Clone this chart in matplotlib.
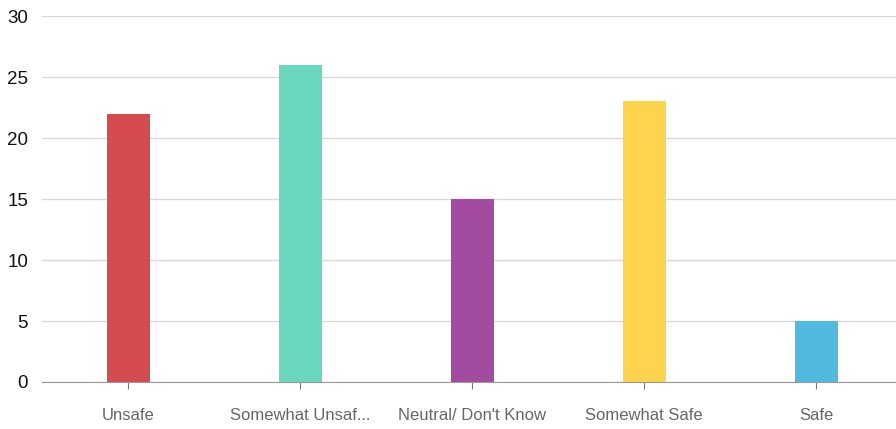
import matplotlib
matplotlib.use('Agg')
import matplotlib.pyplot as plt

categories = ['Unsafe', 'Somewhat Unsaf...', "Neutral/ Don't Know", 'Somewhat Safe', 'Safe']
counts = [22, 26, 15, 23, 5]
colors = ['#d54b50', '#6ad8bf', '#a34ba0', '#fdd44c', '#4fb9e0']

plt.rcParams['font.family'] = ['Liberation Sans', 'DejaVu Sans']

fig = plt.figure(figsize=(8.96, 4.29), dpi=100)
ax = fig.add_axes([42 / 896, 1 - 382 / 429, 860 / 896, 366 / 429])

x = range(len(categories))
ax.bar(x, counts, width=0.25, color=colors, zorder=3)

ax.set_xlim(-0.5, 4.5)
ax.set_ylim(0, 30)
ax.set_yticks([0, 5, 10, 15, 20, 25, 30])
ax.set_xticks(list(x))
ax.set_xticklabels(categories)

ax.grid(axis='y', color='#d9d9d9', lw=1, zorder=0)
for s in ['top', 'right', 'left']:
    ax.spines[s].set_visible(False)
ax.spines['bottom'].set_color('#999999')
ax.spines['bottom'].set_zorder(4)

ax.tick_params(axis='y', length=0, pad=10, labelsize=13.5, labelcolor='#111111')
ax.tick_params(axis='x', length=5, color='#777777', pad=14, labelsize=12, labelcolor='#666666')

fig.savefig('out.png', dpi=100)
